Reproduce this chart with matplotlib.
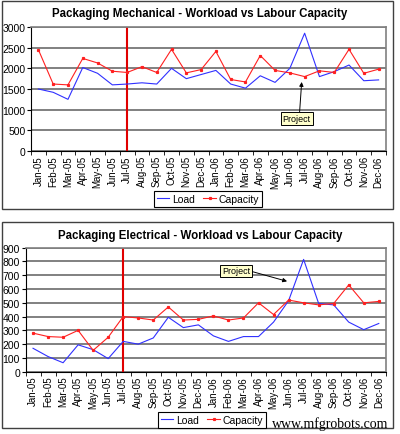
import matplotlib
matplotlib.use("Agg")
import matplotlib.pyplot as plt
from matplotlib.patches import Rectangle
from matplotlib.ticker import FixedLocator

plt.rcParams['font.family'] = ['Liberation Sans', 'DejaVu Sans']

months = ["Jan-05", "Feb-05", "Mar-05", "Apr-05", "May-05", "Jun-05", "Jul-05", "Aug-05",
          "Sep-05", "Oct-05", "Nov-05", "Dec-05", "Jan-06", "Feb-06", "Mar-06", "Apr-06",
          "May-06", "Jun-06", "Jul-06", "Aug-06", "Sep-06", "Oct-06", "Nov-06", "Dec-06"]

mech_load = [1500, 1420, 1250, 2020, 1880, 1600, 1620, 1650, 1620, 2000, 1750, 1850,
             1950, 1620, 1520, 1820, 1660, 2000, 2850, 1800, 1920, 2080, 1700, 1720]
mech_capacity = [2450, 1620, 1600, 2240, 2130, 1930, 1900, 2040, 1900, 2460, 1890, 1970,
                 2410, 1730, 1670, 2310, 1950, 1890, 1800, 1940, 1900, 2460, 1880, 1980]

elec_load = [170, 110, 65, 195, 160, 95, 220, 200, 245, 395, 320, 340,
             260, 220, 255, 255, 360, 515, 815, 495, 485, 360, 305, 350]
elec_capacity = [280, 255, 250, 300, 155, 250, 400, 390, 375, 470, 375, 380,
                 405, 375, 390, 500, 415, 520, 500, 485, 495, 630, 500, 510]

mech_yticks = [0, 500, 1000, 1500, 2000, 2500, 3000]
elec_yticks = [0, 100, 200, 300, 400, 500, 600, 700, 800, 900]

W, H = 400, 435
fig = plt.figure(figsize=(4.0, 4.35), dpi=100)
fig.patch.set_facecolor("white")

def px_rect(x0, y0, x1, y1):
    return [x0 / W, 1 - y1 / H, (x1 - x0) / W, (y1 - y0) / H]

# chart frames
for (x0, y0, x1, y1) in [(2, 2, 393, 210), (2, 223, 393, 429)]:
    fig.add_artist(Rectangle((x0 / W, 1 - y1 / H), (x1 - x0) / W, (y1 - y0) / H,
                             transform=fig.transFigure, fill=False,
                             edgecolor="#404040", linewidth=1.0))

def make_chart(rect, load, cap, yticks, title, title_y, leg_center, ann):
    ax = fig.add_axes(rect)
    x = list(range(len(months)))
    ax.set_xlim(-0.5, len(months) - 0.5)
    ax.set_ylim(yticks[0], yticks[-1])
    ax.yaxis.set_major_locator(FixedLocator(yticks))
    ax.set_yticklabels([str(v) for v in yticks], fontsize=7.5)
    ax.set_xticks(x)
    ax.set_xticklabels(months, rotation=90, fontsize=7)
    ax.xaxis.set_minor_locator(FixedLocator([i - 0.5 for i in range(len(months) + 1)]))
    ax.tick_params(axis='x', which='major', length=0, pad=3)
    ax.tick_params(axis='x', which='minor', length=3, direction='out', color='black')
    ax.tick_params(axis='y', which='major', length=3, direction='out', pad=1)
    ax.grid(axis='y', color='#808080', linewidth=1.4, zorder=0)
    ax.set_axisbelow(True)
    for s in ['top', 'right']:
        ax.spines[s].set_color('#808080')
        ax.spines[s].set_linewidth(1.2)
    for s in ['left', 'bottom']:
        ax.spines[s].set_color('black')
        ax.spines[s].set_linewidth(0.8)
    ax.axvline(6, color='#E00000', linewidth=1.5, zorder=2)
    l1, = ax.plot(x, load, color='#3030FF', linewidth=0.8, zorder=3, label='Load')
    l2, = ax.plot(x, cap, color='#FF2020', linewidth=0.8, marker='s', markersize=1.3,
                  zorder=3, label='Capacity')
    fig.text(0.5, 1 - title_y / H, title, ha='center', va='center',
             fontsize=8.3, fontweight='bold')
    leg = fig.legend(handles=[l1, l2], loc='center', ncol=2,
                     bbox_to_anchor=(leg_center[0] / W, 1 - leg_center[1] / H),
                     fontsize=7.5, frameon=True, fancybox=False, handlelength=1.2,
                     handletextpad=0.3, columnspacing=0.8, borderpad=0.25,
                     edgecolor='black', framealpha=1)
    leg.get_frame().set_linewidth(0.8)
    (bx, by), (tx, ty), rel = ann
    ax.annotate("Project", xy=(tx, ty), xytext=(bx, by), fontsize=6.5,
                ha='center', va='center',
                bbox=dict(boxstyle='square,pad=0.2', fc='#FFFFCC', ec='black', lw=0.7),
                arrowprops=dict(arrowstyle='-|>', color='black', lw=0.7,
                                mutation_scale=6, shrinkA=0, shrinkB=0,
                                relpos=rel), zorder=5)
    return ax

make_chart(px_rect(31, 28, 386, 152), mech_load, mech_capacity, mech_yticks,
           "Packaging Mechanical - Workload vs Labour Capacity", 14, (208, 200),
           ((17.46, 790), (17.8, 1670), (0.6, 1.0)))
make_chart(px_rect(25.5, 248.7, 386.3, 372.7), elec_load, elec_capacity, elec_yticks,
           "Packaging Electrical - Workload vs Labour Capacity", 236, (212, 421),
           ((13.5, 731), (16.9, 656), (1.0, 0.5)))

fig.text(388 / W, 1 - 424 / H, "www.mfgrobots.com", ha='right', va='center',
         fontsize=10, family=['Liberation Serif', 'DejaVu Serif'])

fig.savefig("out.png", dpi=100, facecolor="white")
